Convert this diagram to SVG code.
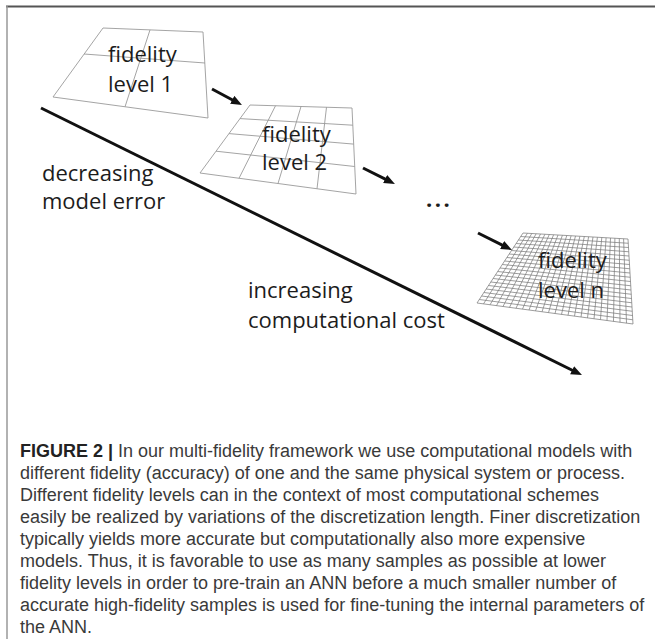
<svg xmlns="http://www.w3.org/2000/svg" width="655" height="639" viewBox="0 0 655 639">
<style>
.lbl{font-family:"Open Sans","Liberation Sans",sans-serif;font-size:22px;fill:#1c1c1c}
.grid{fill:none;stroke:#9a9a9a;stroke-width:0.9}
.fine{fill:none;stroke:#7c7c7c;stroke-width:0.75}
.arr{stroke:#111;stroke-width:3;fill:none;marker-end:url(#ah)}
.cap{font-family:"Liberation Sans",Arial,sans-serif;font-size:18px;fill:#3a3a3a}
</style>
<defs>
<marker id="ah" markerUnits="userSpaceOnUse" markerWidth="12" markerHeight="10" refX="3" refY="4.5" orient="auto">
<path d="M0,0 L11,4.5 L0,9 z" fill="#111"/>
</marker>
</defs>
<rect width="655" height="639" fill="#fff"/>
<g id="frame">
<line x1="6" y1="6.5" x2="655" y2="6.5" stroke="#555" stroke-width="2"/>
<line x1="7" y1="6" x2="7" y2="639" stroke="#999" stroke-width="1.5"/>
</g>
<g id="level1">
<path class="grid" d="M103,28 L203,32 L208,118 L53,97 Z M150,29.9 L125,106.8 M84,54 L205,63"/>
<text class="lbl" x="108" y="62">fidelity</text>
<text class="lbl" x="108" y="92">level 1</text>
</g>
<g id="level2">
<path class="grid" d="M250,105 L352,108 L356,194 L200,173 Z M275.5,105.75 L239,178.25 M301,106.5 L278,183.5 M326.5,107.25 L317,188.75 M240,118.6 L352.8,125.2 M229,133.6 L353.7,144.1 M216,151.2 L354.7,166.5"/>
<text class="lbl" x="262" y="142">fidelity</text>
<text class="lbl" x="262" y="170">level 2</text>
</g>
<g id="ellipsis">
<text class="lbl" x="426" y="207" style="font-weight:700;letter-spacing:2.5px">...</text>
</g>
<g id="levelN">
<path class="fine" d="M523,233 L628,239 L633,324 L477,303 Z
M527.4,233.3 L483.5,303.9 M531.8,233.5 L490,304.8 M536.1,233.8 L496.5,305.6 M540.5,234 L503,306.5 M544.9,234.3 L509.5,307.4 M549.3,234.5 L516,308.3 M553.6,234.8 L522.5,309.1 M558,235 L529,310 M562.4,235.3 L535.5,310.9 M566.8,235.5 L542,311.8 M571.1,235.8 L548.5,312.6 M575.5,236 L555,313.5 M579.9,236.3 L561.5,314.4 M584.3,236.5 L568,315.3 M588.6,236.8 L574.5,316.1 M593,237 L581,317 M597.4,237.3 L587.5,317.9 M601.8,237.5 L594,318.8 M606.1,237.8 L600.5,319.6 M610.5,238 L607,320.5 M614.9,238.3 L613.5,321.4 M619.3,238.5 L620,322.3 M623.6,238.8 L626.5,323.1
M520.7,236.5 L628.25,243.25 M518.4,240 L628.5,247.5 M516.1,243.5 L628.75,251.75 M513.8,247 L629,256 M511.5,250.5 L629.25,260.25 M509.2,254 L629.5,264.5 M506.9,257.5 L629.75,268.75 M504.6,261 L630,273 M502.3,264.5 L630.25,277.25 M500,268 L630.5,281.5 M497.7,271.5 L630.75,285.75 M495.4,275 L631,290 M493.1,278.5 L631.25,294.25 M490.8,282 L631.5,298.5 M488.5,285.5 L631.75,302.75 M486.2,289 L632,307 M483.9,292.5 L632.25,311.25 M481.6,296 L632.5,315.5 M479.3,299.5 L632.75,319.75"/>
<text class="lbl" x="538" y="268">fidelity</text>
<text class="lbl" x="538" y="298">level n</text>
</g>
<g id="connectors">
<line class="arr" x1="212" y1="89" x2="234.9" y2="101.2"/>
<line class="arr" x1="363" y1="168" x2="387.8" y2="180.4"/>
<line class="arr" x1="478" y1="233" x2="504.8" y2="246.4"/>
<line class="arr" x1="41" y1="108" x2="574.8" y2="371.5"/>
</g>
<g id="axis-labels">
<text class="lbl" x="42" y="181">decreasing</text>
<text class="lbl" x="42" y="209">model error</text>
<text class="lbl" x="248" y="298">increasing</text>
<text class="lbl" x="248" y="328">computational cost</text>
</g>
<g id="caption">
<text class="cap" x="20" y="457"><tspan style="font-weight:700;fill:#222">FIGURE 2 |</tspan> In our multi-fidelity framework we use computational models with</text>
<text class="cap" x="20" y="479">different fidelity (accuracy) of one and the same physical system or process.</text>
<text class="cap" x="20" y="501">Different fidelity levels can in the context of most computational schemes</text>
<text class="cap" x="20" y="523">easily be realized by variations of the discretization length. Finer discretization</text>
<text class="cap" x="20" y="545">typically yields more accurate but computationally also more expensive</text>
<text class="cap" x="20" y="567">models. Thus, it is favorable to use as many samples as possible at lower</text>
<text class="cap" x="20" y="589">fidelity levels in order to pre-train an ANN before a much smaller number of</text>
<text class="cap" x="20" y="611">accurate high-fidelity samples is used for fine-tuning the internal parameters of</text>
<text class="cap" x="20" y="633">the ANN.</text>
</g>
</svg>
